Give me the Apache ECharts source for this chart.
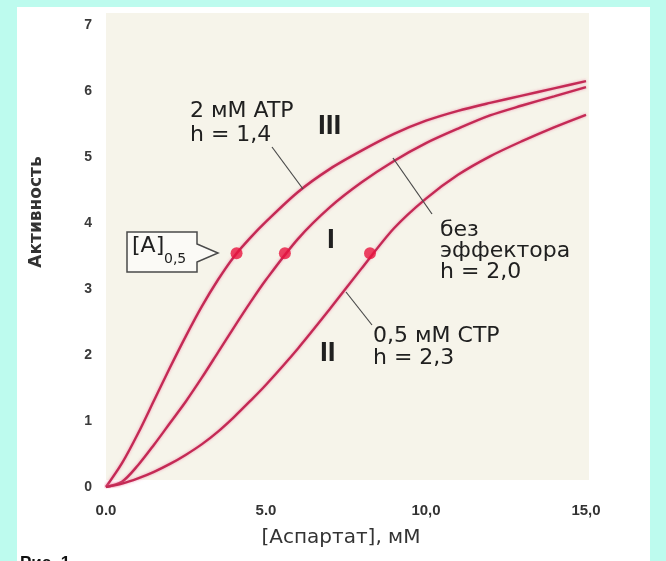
<!DOCTYPE html>
<html>
<head>
<meta charset="utf-8">
<script src="https://cdn.jsdelivr.net/npm/echarts@6/dist/echarts.min.js"></script>
<style>
html,body{margin:0;padding:0;background:#bdfbee;}
#c{width:666px;height:561px;}
</style>
</head>
<body>
<div id="c"></div>
<script>
// ---- data ----
var xValues = [0, 0.5, 1, 1.5, 2, 2.5, 3, 3.5, 4, 4.5, 5, 6, 7, 8, 9, 10, 11, 12, 13, 14, 15];
// curve III: 2 mM ATP, h = 1,4
var curveIII = [0, 0.36, 0.81, 1.31, 1.81, 2.29, 2.74, 3.14, 3.49, 3.77, 4.02, 4.47, 4.82, 5.10, 5.35, 5.55, 5.70, 5.82, 5.93, 6.04, 6.15];
// curve I: no effector, h = 2,0
var curveI = [0, 0.08, 0.33, 0.64, 0.97, 1.30, 1.66, 2.04, 2.42, 2.79, 3.14, 3.76, 4.24, 4.62, 4.94, 5.21, 5.43, 5.63, 5.78, 5.92, 6.06];
// curve II: 0,5 mM CTP, h = 2,3
var curveII = [0, 0.05, 0.13, 0.23, 0.35, 0.49, 0.65, 0.84, 1.06, 1.30, 1.55, 2.10, 2.70, 3.32, 3.92, 4.37, 4.73, 5.01, 5.24, 5.45, 5.64];
// half-saturation points [A]0,5
var halfPoints = [[4.08, 3.54], [5.59, 3.54], [8.25, 3.54]];
var xTickLabels = {0: '0.0', 5: '5.0', 10: '10,0', 15: '15,0'};
var yTickLabels = ['0', '1', '2', '3', '4', '5', '6', '7'];

function pairs(ys) { return xValues.map(function (x, i) { return [x, ys[i]]; }); }

var chart = echarts.init(document.getElementById('c'), null, {renderer: 'canvas'});
var FONT = 'DejaVu Sans';
var lineStyle = {color: '#c42a55', width: 2.4, shadowColor: 'rgba(235,110,150,0.7)', shadowBlur: 3};

function txt(x, y, s, size, extra) {
  var st = {text: s, x: x, y: y, fill: '#202020', font: 'normal ' + size + 'px "' + FONT + '"'};
  if (extra) for (var k in extra) st[k] = extra[k];
  return {type: 'text', z: 20, style: st};
}
function seg(x1, y1, x2, y2) {
  return {type: 'line', z: 15, shape: {x1: x1, y1: y1, x2: x2, y2: y2}, style: {stroke: '#4a4a4a', lineWidth: 1.2}};
}

chart.setOption({
  animation: false,
  backgroundColor: '#bdfbee',
  grid: {left: 106, top: 25, width: 480, height: 462},
  xAxis: {
    type: 'value', min: 0, max: 15, interval: 5,
    axisLine: {show: false}, axisTick: {show: false}, splitLine: {show: false},
    axisLabel: {margin: 16, fontSize: 15, color: '#333', fontFamily: 'Liberation Sans', fontWeight: 'bold',
      formatter: function (v) { return xTickLabels[v] !== undefined ? xTickLabels[v] : ''; }}
  },
  yAxis: {
    type: 'value', min: 0, max: 7, interval: 1,
    axisLine: {show: false}, axisTick: {show: false}, splitLine: {show: false},
    axisLabel: {margin: 14, fontSize: 14, color: '#3a3a3a', fontFamily: 'Liberation Sans', fontWeight: 'bold',
      formatter: function (v) { return yTickLabels[v]; }}
  },
  graphic: [
    {type: 'rect', z: -20, shape: {x: 17, y: 7, width: 633, height: 560}, style: {fill: '#ffffff'}},
    {type: 'rect', z: -19, shape: {x: 106, y: 13, width: 483, height: 467}, style: {fill: '#f6f4ea'}},
    // axis titles
    {type: 'text', z: 20, x: 37, y: 212, rotation: Math.PI / 2,
      style: {text: 'Активность', fill: '#333', font: 'bold 17px "DejaVu Sans"', textAlign: 'center', textVerticalAlign: 'middle'}},
    txt(341, 538, '[Аспартат], мМ', 20, {fill: '#333', textAlign: 'center', textVerticalAlign: 'middle'}),
    // curve annotations
    txt(190, 100, '2 мМ ATP', 22),
    txt(190, 124, 'h = 1,4', 22),
    txt(440, 219, 'без', 22),
    txt(440, 240, 'эффектора', 22),
    txt(440, 261, 'h = 2,0', 22),
    txt(373, 325, '0,5 мМ CTP', 22),
    txt(373, 347, 'h = 2,3', 22),
    txt(318, 112, 'III', 28, {font: 'bold 28px "Liberation Sans"'}),
    txt(327, 226, 'I', 28, {font: 'bold 28px "Liberation Sans"'}),
    txt(320, 339, 'II', 28, {font: 'bold 28px "Liberation Sans"'}),
    seg(272, 147, 303, 189),
    seg(393, 158, 432, 214),
    seg(346, 292, 372, 325),
    // [A]0,5 callout
    {type: 'polygon', z: 15, shape: {points: [[127, 232], [197, 232], [197, 244], [218, 253], [197, 262], [197, 272], [127, 272]]},
      style: {fill: '#fbfaf6', stroke: '#4a4a4a', lineWidth: 1.5}},
    txt(132, 235, '[A]', 22),
    txt(164, 252, '0,5', 14),
    // cropped caption at the bottom
    txt(20, 555, 'Рис. 1', 17, {font: 'bold 17px "Liberation Sans"', fill: '#111'})
  ],
  series: [
    {type: 'line', name: 'III', data: pairs(curveIII), smooth: 0.3, showSymbol: false, lineStyle: lineStyle, z: 3},
    {type: 'line', name: 'I', data: pairs(curveI), smooth: 0.3, showSymbol: false, lineStyle: lineStyle, z: 3},
    {type: 'line', name: 'II', data: pairs(curveII), smooth: 0.3, showSymbol: false, lineStyle: lineStyle, z: 3},
    {type: 'scatter', data: halfPoints, symbolSize: 12, itemStyle: {color: '#e8143f'}, z: 5}
  ]
});
</script>
</body>
</html>
